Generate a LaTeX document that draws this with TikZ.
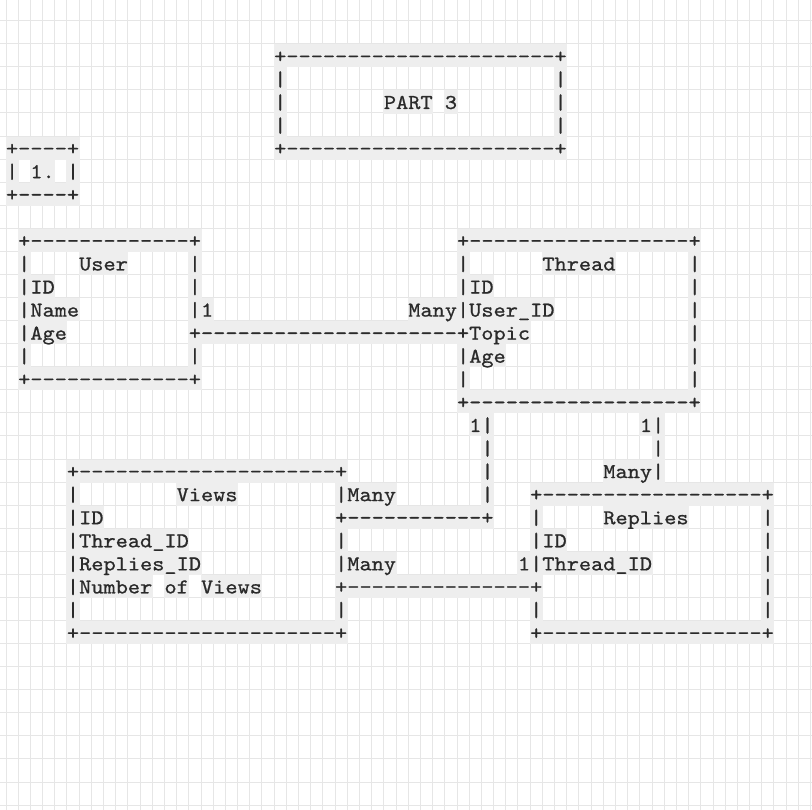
\documentclass[tikz,border=0pt]{standalone}
\usepackage{fontspec}
\newfontfamily\ascfont{lmmono10-regular}[Extension=.otf,FakeStretch=1.1,FakeBold=0.8]
\definecolor{gridc}{HTML}{E6E6E6}
\definecolor{hlc}{HTML}{EEEEEE}
\definecolor{txtc}{HTML}{2A2A2A}
\ExplSyntaxOn
\cs_new:Npn \asdash #1 {\prg_replicate:nn{#1}{-}}
\ExplSyntaxOff
\pgfdeclarelayer{gridlayer}
\pgfdeclarelayer{hlayer}
\pgfsetlayers{gridlayer,hlayer,main}
\def\W{12.19}
\def\Xo{18.19}
\def\Yo{44.3}
\def\H{23.07}
\tikzset{
  hl/.style={fill=hlc},
  txt/.style={anchor=base west,inner sep=0pt,outer sep=0pt,text=txtc,
    font=\ascfont\fontsize{21.1}{23}\selectfont},
  gridline/.style={draw=gridc,line width=1pt}
}
\newcommand\seg[4]{%
  \begin{pgfonlayer}{hlayer}
    \fill[hl] ({\Xo+\W*(#1)-0.5},{\Yo+\H*(#2)}) rectangle ({\Xo+\W*(#1+#3)+0.5},{\Yo+\H*(#2+1)});
  \end{pgfonlayer}
  \node[txt] (s#1x#2) at ({\Xo+\W*(#1)},{\Yo+\H*(#2)+\H/2+7}) {#4};%
}
\begin{document}
\begin{tikzpicture}[x=1pt,y=-1pt]
\useasboundingbox (0,0) rectangle (812,810);
\begin{pgfonlayer}{gridlayer}
  \fill[white] (0,0) rectangle (812,810);
  \foreach \k in {0,...,66} {\draw[gridline] ({6+\W*\k},0) -- ({6+\W*\k},810);}
  \foreach \k in {0,...,34} {\draw[gridline] (0,{20.7+\H*\k}) -- (812,{20.7+\H*\k});}
\end{pgfonlayer}
% PART 3 box
\seg{21}{0}{24}{+\asdash{22}+}
\seg{21}{1}{1}{|}\seg{44}{1}{1}{|}
\seg{21}{2}{1}{|}\seg{30}{2}{4}{PART}\seg{35}{2}{1}{3}\seg{44}{2}{1}{|}
\seg{21}{3}{1}{|}\seg{44}{3}{1}{|}
\seg{21}{4}{24}{+\asdash{22}+}
% 1. box
\seg{-1}{4}{6}{+\asdash{4}+}
\seg{-1}{5}{1}{|}\seg{1}{5}{2}{1.}\seg{4}{5}{1}{|}
\seg{-1}{6}{6}{+\asdash{4}+}
% User and Thread
\seg{0}{8}{15}{+\asdash{13}+}\seg{36}{8}{20}{+\asdash{18}+}
\seg{0}{9}{1}{|}\seg{5}{9}{4}{User}\seg{14}{9}{1}{|}\seg{36}{9}{1}{|}\seg{43}{9}{6}{Thread}\seg{55}{9}{1}{|}
\seg{0}{10}{3}{|ID}\seg{14}{10}{1}{|}\seg{36}{10}{3}{|ID}\seg{55}{10}{1}{|}
\seg{0}{11}{5}{|Name}\seg{14}{11}{2}{|1}\seg{32}{11}{12}{Many|User\_ID}\seg{55}{11}{1}{|}
\seg{0}{12}{4}{|Age}\seg{14}{12}{28}{+\asdash{21}+Topic}\seg{55}{12}{1}{|}
\seg{0}{13}{1}{|}\seg{14}{13}{1}{|}\seg{36}{13}{4}{|Age}\seg{55}{13}{1}{|}
\seg{0}{14}{15}{+\asdash{13}+}\seg{36}{14}{1}{|}\seg{55}{14}{1}{|}
\seg{36}{15}{20}{+\asdash{18}+}
\seg{37}{16}{2}{1|}\seg{51}{16}{2}{1|}
\seg{38}{17}{1}{|}\seg{52}{17}{1}{|}
% Views and Replies
\seg{4}{18}{23}{+\asdash{21}+}\seg{38}{18}{1}{|}\seg{48}{18}{5}{Many|}
\seg{4}{19}{1}{|}\seg{13}{19}{5}{Views}\seg{26}{19}{5}{|Many}\seg{38}{19}{1}{|}\seg{42}{19}{20}{+\asdash{18}+}
\seg{4}{20}{3}{|ID}\seg{26}{20}{13}{+\asdash{11}+}\seg{42}{20}{1}{|}\seg{48}{20}{7}{Replies}\seg{61}{20}{1}{|}
\seg{4}{21}{10}{|Thread\_ID}\seg{26}{21}{1}{|}\seg{42}{21}{3}{|ID}\seg{61}{21}{1}{|}
\seg{4}{22}{11}{|Replies\_ID}\seg{26}{22}{5}{|Many}\seg{41}{22}{11}{1|Thread\_ID}\seg{61}{22}{1}{|}
\seg{4}{23}{7}{|Number}\seg{12}{23}{2}{of}\seg{15}{23}{5}{Views}\seg{26}{23}{17}{+\asdash{15}+}\seg{61}{23}{1}{|}
\seg{4}{24}{1}{|}\seg{26}{24}{1}{|}\seg{42}{24}{1}{|}\seg{61}{24}{1}{|}
\seg{4}{25}{23}{+\asdash{21}+}\seg{42}{25}{20}{+\asdash{18}+}
\end{tikzpicture}
\end{document}
